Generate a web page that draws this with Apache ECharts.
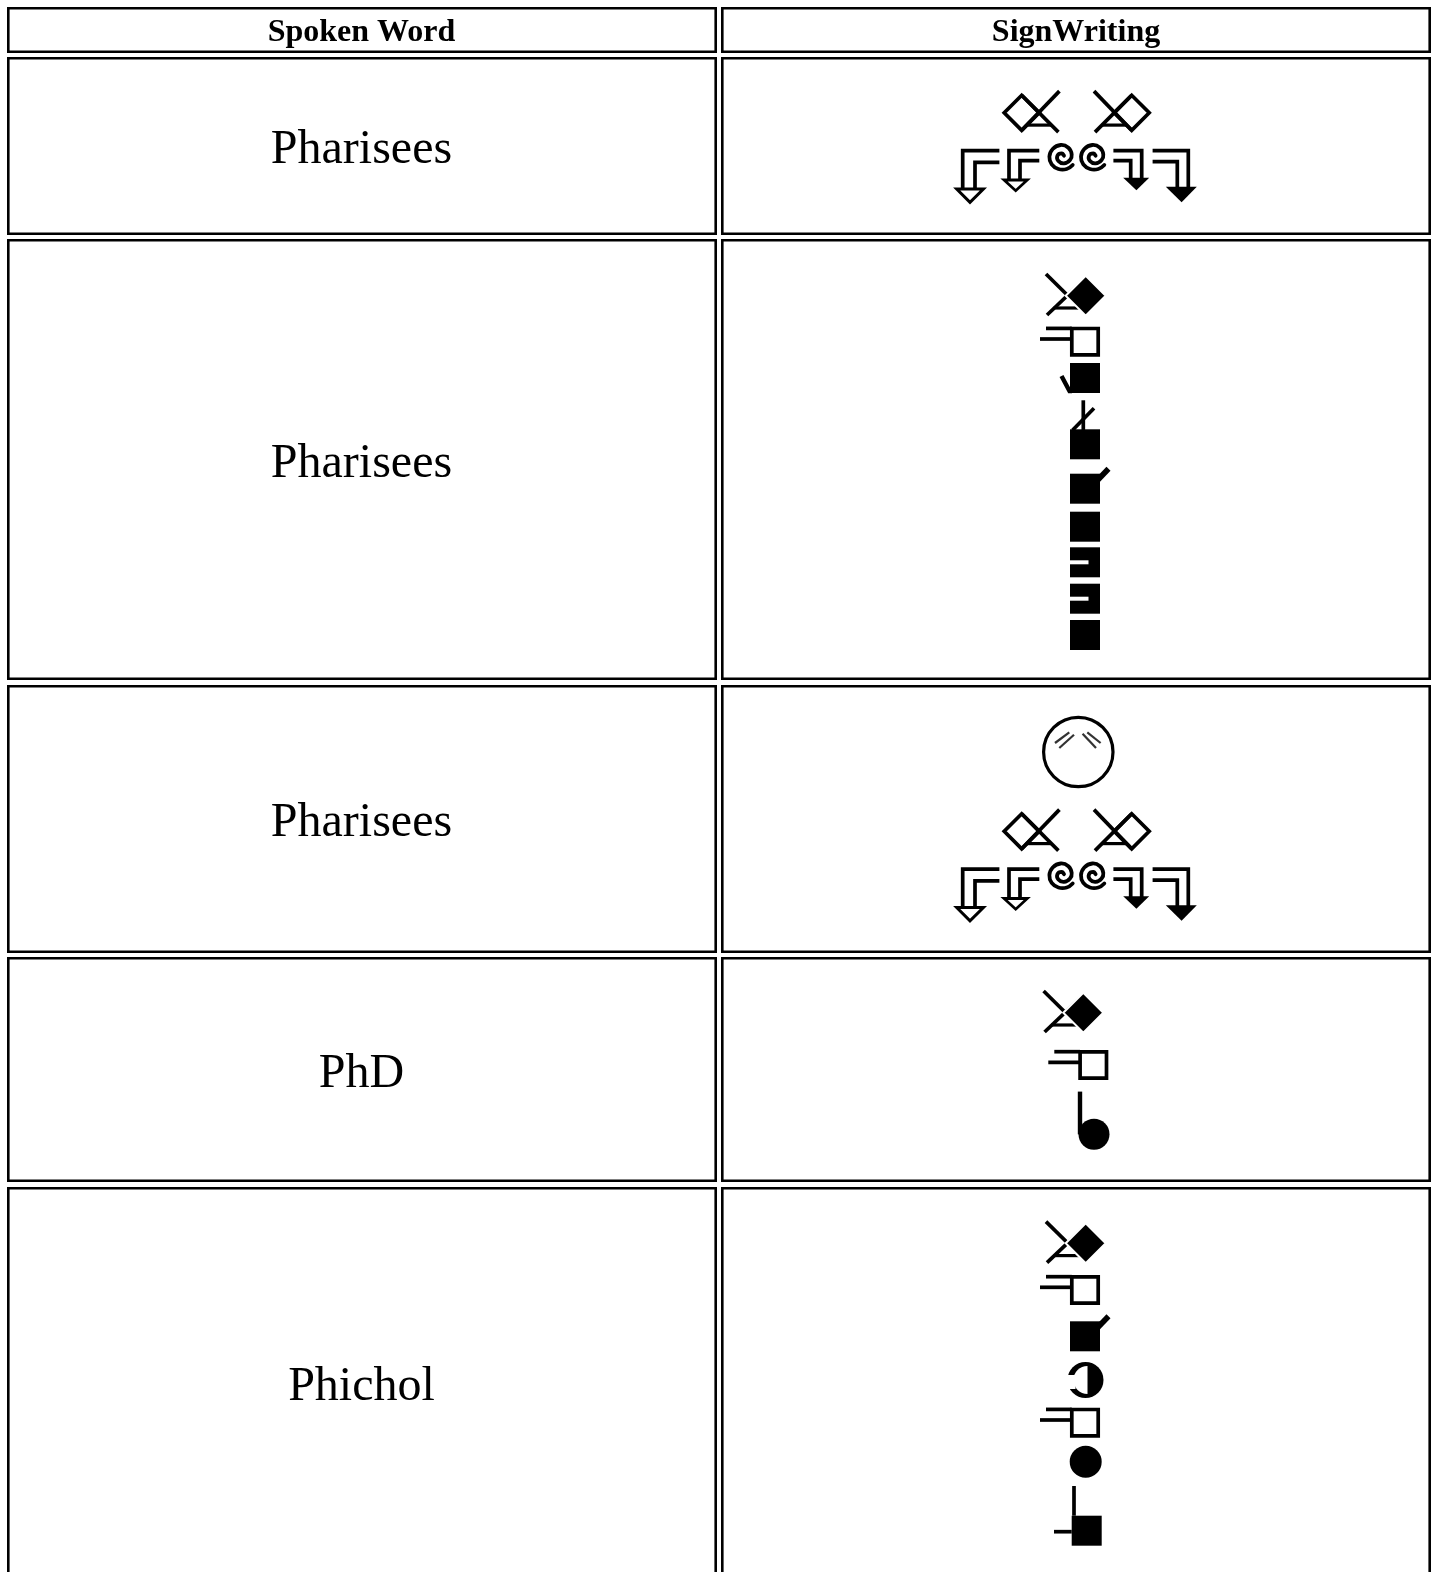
<!DOCTYPE html>
<html><head><meta charset="utf-8">
<style>html,body{margin:0;padding:0;background:#fff}#c{width:1435px;height:1572px}</style>
<script src="https://cdn.jsdelivr.net/npm/echarts@6/dist/echarts.min.js"></script>
</head><body><div id="c"></div>
<script>
const headers = ['Spoken Word', 'SignWriting'];
const words = ['Pharisees', 'Pharisees', 'Pharisees', 'PhD', 'Phichol'];
const signs = [
  ['handOpenL','handOpenR','arrowOpenBig','arrowOpenSmall','spiral','spiral','arrowFillSmall','arrowFillBig'],
  ['handFill','flagSquare','hookSquare','forkSquare','tailSquare','square','notchSquare','notchSquare','square'],
  ['face','handOpenL','handOpenR','arrowOpenBig','arrowOpenSmall','spiral','spiral','arrowFillSmall','arrowFillBig'],
  ['handFill','flagSquare','stemBall'],
  ['handFill','flagSquare','tailSquare','moon','flagSquare','ball','crossSquare']
];

// layout only
const colEdges = [[7,717],[721,1431]];
const headerEdge = [7,53];
const rowEdges = [[57,235],[239,680],[685,953],[957,1182],[1187,1660]];
const textY = [150.5,464,823,1074,1387];
const headerY = 32.5;
const BORDER = 2.6;
const LW = 3.7;
const R3 = 718.5;
const anchors = [
  [[1021.7,112.8],[1131.7,112.8],[962.7,150.7],[1009,150.7],[1061.7,157.7],[1093.3,157.7],[1141.7,150.7],[1188.3,150.7]],
  [[1085.7,295.7],[1085,341.7],[1085,378],[1085,444.3],[1085,488.7],[1085,526.7],[1085,562.3],[1085,598.7],[1085,635]],
  [[1078.3,752],[1021.7,112.8+R3],[1131.7,112.8+R3],[962.7,150.7+R3],[1009,150.7+R3],[1061.7,157.7+R3],[1093.3,157.7+R3],[1141.7,150.7+R3],[1188.3,150.7+R3]],
  [[1083.3,1012.7],[1093.3,1065],[1094,1134.3]],
  [[1085.7,1243.3],[1085,1290],[1085,1336.3],[1085.5,1380],[1085,1422.7],[1085.7,1461.7],[1086.7,1530.7]]
];

const names = [];
const glyphData = [];
signs.forEach((row,r)=>row.forEach((g,i)=>{
  if(!names.includes(g)) names.push(g);
  glyphData.push([anchors[r][i][0],anchors[r][i][1],names.indexOf(g)]);
}));

const cellData = [];
colEdges.forEach(c=>{
  cellData.push([c[0],headerEdge[0],c[1],headerEdge[1]]);
  rowEdges.forEach(e=>cellData.push([c[0],e[0],c[1],e[1]]));
});

const INK = '#000';
const SPIRAL = [[11,7.3],[5,11.3],[-3.3,11.3],[-10,6.7],[-12.3,-1],[-9,-8.7],[-1,-12.7],[6.7,-10],[10,-3.3],[8.3,2.3],[2.3,5.7],[-3.3,3.3],[-4.3,-2],[0,-4.3],[2.3,-2]];

const drawers = {
  handOpenR:(k)=>hand(k,1,false),
  handOpenL:(k)=>hand(k,-1,false),
  handFill:(k)=>hand(k,1,true),
  flagSquare:(k)=>[
    k.line([[-39,-13.3],[-13.2,-13.3]],LW),
    k.line([[-45,-2.7],[-13.2,-2.7]],LW),
    k.poly([[-13.2,-13.2],[13.2,-13.2],[13.2,13.2],[-13.2,13.2]],'#fff',INK,LW)
  ],
  square:(k)=>[k.block()],
  hookSquare:(k)=>[k.block(),k.line([[-23.5,-2],[-15.5,13],[-13,13]],4.4)],
  forkSquare:(k)=>[
    k.line([[-1.7,-44],[-1.7,-14]],LW),
    k.line([[9,-36],[-12.5,-14]],LW),
    k.block()
  ],
  tailSquare:(k)=>[k.block(),k.line([[13,-9],[23.5,-20]],5.6)],
  notchSquare:(k)=>[k.block(),k.poly([[-15.5,-2],[3.5,-2],[3.5,2],[-15.5,2]],'#fff')],
  stemBall:(k)=>[k.line([[-14,-42.7],[-14,0]],4.4),k.disc(0,0,15.5,INK)],
  ball:(k)=>[k.disc(0,0,16,INK)],
  crossSquare:(k)=>[
    k.line([[-12.7,-44.7],[-12.7,-15]],LW),
    k.line([[-32.7,1],[-15,1]],LW),
    k.block()
  ],
  moon:(k)=>[
    k.disc(0,0,18,INK),
    k.halfLeft(14),
    k.poly([[-20,-5],[-10,-5],[-10,9],[-20,9]],'#fff')
  ],
  spiral:(k)=>[k.curve(SPIRAL,3.8)],
  arrowOpenBig:(k)=>[
    k.line([[36.7,0],[0,0],[0,40]],LW),k.line([[36.7,11.7],[12.3,11.7],[12.3,40]],LW),
    k.poly([[-6,38.3],[20.7,38.3],[7.3,51.7]],'#fff',INK,3)
  ],
  arrowOpenSmall:(k)=>[
    k.line([[30.3,0],[0,0],[0,30]],LW),k.line([[30.3,10],[11,10],[11,30]],LW),
    k.poly([[-5,29.3],[18.3,29.3],[6.7,40]],'#fff',INK,2.8)
  ],
  arrowFillSmall:(k)=>[
    k.line([[-28.3,0],[0,0],[0,28]],LW),k.line([[-28.3,10],[-11,10],[-11,28]],LW),
    k.poly([[-18.5,27],[7.5,27],[-5.3,39.5]],INK)
  ],
  arrowFillBig:(k)=>[
    k.line([[-35.7,0],[0,0],[0,37]],LW),k.line([[-35.7,11],[-11,11],[-11,37]],LW),
    k.poly([[-22.5,36],[8.5,36],[-6.7,51.5]],INK)
  ],
  face:(k)=>[
    k.ring(34.7,3.2),
    k.line([[-23.3,-9],[-9,-19.7]],2.2,'#333'),k.line([[-19,-4],[-4.3,-17.3]],2.2,'#333'),
    k.line([[4.3,-18.3],[17.7,-4]],2.2,'#333'),k.line([[9,-19.7],[22.3,-9]],2.2,'#333')
  ]
};

function hand(k,s,filled){
  const m = ps=>ps.map(p=>[s*p[0],p[1]]);
  const d = filled?20:17.5;
  const o = filled?-2:0;
  return [
    k.line(m([[-37.7+o,-21.7],[0,17.5]]),LW),
    k.line(m([[0,-17.5],[-36.7+o,19.3]]),LW),
    k.line(m([[-30+o,12.3],[-5,12.3]]),3.2),
    filled ? k.poly([[-d,0],[0,-d],[d,0],[0,d]],INK,'#fff',2)
           : k.poly([[-d,0],[0,-d],[d,0],[0,d]],'none',INK,LW)
  ];
}

function kit(api,cx,cy){
  const p = q=>api.coord([cx+q[0],cy+q[1]]);
  const c = api.coord([cx,cy]);
  return {
    line:(pts,w,col)=>({type:'polyline',shape:{points:pts.map(p)},style:{stroke:col||INK,lineWidth:w,fill:null,lineJoin:'miter'}}),
    curve:(pts,w)=>({type:'polyline',shape:{points:pts.map(p),smooth:0.45},style:{stroke:INK,lineWidth:w,fill:null,lineCap:'round'}}),
    poly:(pts,fill,stroke,w)=>({type:'polygon',shape:{points:pts.map(p)},style:{fill:fill==='none'?null:fill,stroke:stroke||null,lineWidth:w||0,lineJoin:'miter'}}),
    block:()=>{const a=p([-15,-15]),b=p([15,15]);return {type:'rect',shape:{x:a[0],y:a[1],width:b[0]-a[0],height:b[1]-a[1]},style:{fill:INK}};},
    disc:(x,y,r,f)=>{const o=p([x,y]);return {type:'circle',shape:{cx:o[0],cy:o[1],r},style:{fill:f}};},
    ring:(r,w)=>({type:'circle',shape:{cx:c[0],cy:c[1],r},style:{fill:null,stroke:INK,lineWidth:w}}),
    halfLeft:(r)=>({type:'sector',shape:{cx:c[0]+2,cy:c[1],r0:0,r,startAngle:Math.PI/2,endAngle:Math.PI*1.5,clockwise:true},style:{fill:'#fff'}})
  };
}

const chart = echarts.init(document.getElementById('c'),null,{renderer:'canvas',width:1435,height:1572});
const textData = headers.map((h,i)=>[(colEdges[i][0]+colEdges[i][1])/2-(i?0:0.5),headerY,h,'bold',32])
  .concat(words.map((w,i)=>[361.5,textY[i],w,'normal',48]));

chart.setOption({
  animation:false,
  backgroundColor:'#fff',
  grid:{left:0,right:0,top:0,bottom:0},
  xAxis:{type:'value',min:0,max:1435,show:false},
  yAxis:{type:'value',min:0,max:1572,inverse:true,show:false},
  tooltip:{show:false},
  series:[
    {type:'custom',coordinateSystem:'cartesian2d',silent:true,clip:false,data:cellData,
     renderItem:(params,api)=>{
       const i=BORDER/2;
       const a=api.coord([api.value(0)+i,api.value(1)+i]),b=api.coord([api.value(2)-i,api.value(3)-i]);
       return {type:'rect',shape:{x:a[0],y:a[1],width:b[0]-a[0],height:b[1]-a[1]},style:{fill:'#fff',stroke:INK,lineWidth:BORDER}};
     }},
    {type:'custom',coordinateSystem:'cartesian2d',silent:true,clip:false,
     data:glyphData,z:3,
     renderItem:(params,api)=>{
       const k=kit(api,api.value(0),api.value(1));
       return {type:'group',children:drawers[names[api.value(2)]](k)};
     }},
    {type:'custom',coordinateSystem:'cartesian2d',silent:true,clip:false,z:4,
     data:textData,
     encode:{x:0,y:1},
     renderItem:(params,api)=>{
       const d=textData[params.dataIndex];
       const o=api.coord([d[0],d[1]]);
       return {type:'text',x:o[0],y:o[1],style:{text:d[2],fill:INK,align:'center',verticalAlign:'middle',
         font:d[3]+' '+d[4]+'px "Liberation Serif","Times New Roman",serif'}};
     }}
  ]
});
</script></body></html>
